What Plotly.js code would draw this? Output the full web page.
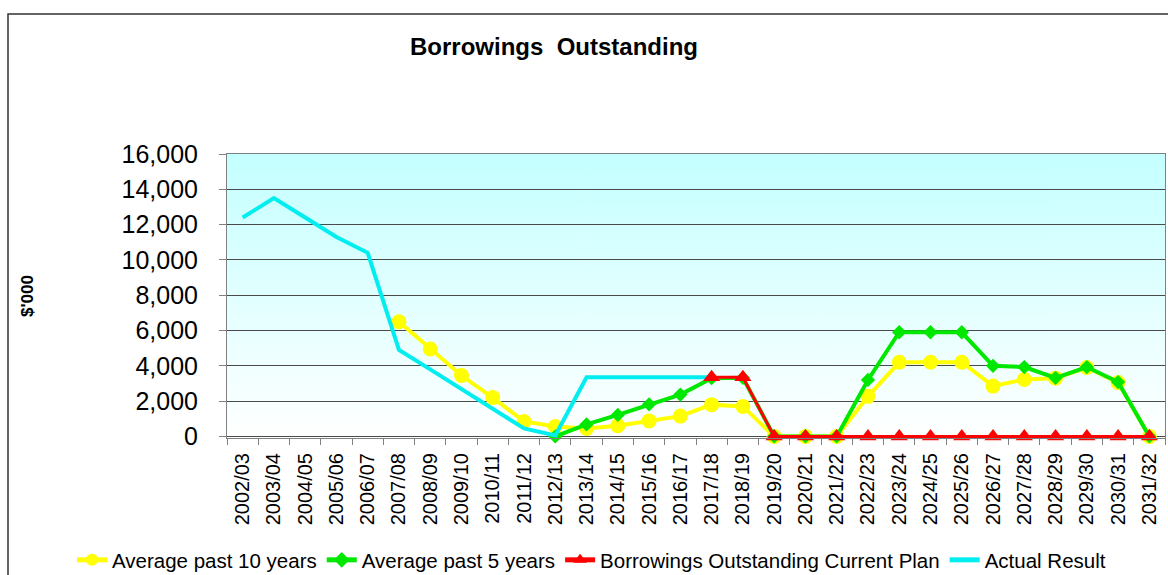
<!DOCTYPE html>
<html>
<head>
<meta charset="utf-8">
<script src="https://cdn.plot.ly/plotly-3.0.1.min.js"></script>
<style>html,body{margin:0;padding:0;background:#fff;}#chart{width:1168px;height:575px;}</style>
</head>
<body>
<div id="chart"></div>
<script>
const years = ["2002/03","2003/04","2004/05","2005/06","2006/07","2007/08","2008/09","2009/10","2010/11","2011/12","2012/13","2013/14","2014/15","2015/16","2016/17","2017/18","2018/19","2019/20","2020/21","2021/22","2022/23","2023/24","2024/25","2025/26","2026/27","2027/28","2028/29","2029/30","2030/31","2031/32"];

const avg10 = [null,null,null,null,null,6500,4950,3450,2200,850,560,450,600,880,1150,1800,1700,0,0,0,2270,4200,4200,4200,2850,3230,3300,3900,3050,0];

const avg5 = [null,null,null,null,null,null,null,null,null,null,0,680,1220,1820,2370,3300,3320,0,0,0,3200,5900,5900,5900,4000,3930,3320,3930,3080,0];

const currentPlan = [null,null,null,null,null,null,null,null,null,null,null,null,null,null,null,3350,3350,0,0,0,0,0,0,0,0,0,0,0,0,0];

const actual = [12400,13500,12400,11300,10400,4900,3800,2700,1600,450,50,3350,3350,3350,3350,3350,null,null,null,null,null,null,null,null,null,null,null,null,null,null];

const seriesNames = ["Average past 10 years","Average past 5 years","Borrowings Outstanding Current Plan","Actual Result"];

// gradient background image for plot area
const cv = document.createElement('canvas');
cv.width = 4; cv.height = 284;
const ctx = cv.getContext('2d');
const g = ctx.createLinearGradient(0,0,0,284);
g.addColorStop(0,'#C4FFFF');
g.addColorStop(1,'#FFFFFF');
ctx.fillStyle = g; ctx.fillRect(0,0,4,284);
const bgURL = cv.toDataURL('image/png');

const font = 'Liberation Sans, Arial, sans-serif';

const traces = [
  {x: years, y: avg10, name: seriesNames[0], type:'scatter', mode:'lines+markers', cliponaxis:false,
   line:{color:'#FFFF00', width:4}, marker:{symbol:'circle', size:15, color:'#FFFF00'}},
  {x: years, y: avg5, name: seriesNames[1], type:'scatter', mode:'lines+markers', cliponaxis:false,
   line:{color:'#00E800', width:4}, marker:{symbol:'diamond', size:11, color:'#00E800'}},
  {x: years, y: actual, name: seriesNames[3], type:'scatter', mode:'lines', cliponaxis:false,
   line:{color:'#00EEF0', width:4}, showlegend:false, legendgroup:'a'},
  {x: years, y: currentPlan, name: seriesNames[2], type:'scatter', mode:'lines+markers', cliponaxis:false,
   line:{color:'#FF0000', width:3}, marker:{symbol:'triangle-up', size:15, color:'#FF0000'}},
  {x: [null], y: [null], name: seriesNames[3], type:'scatter', mode:'lines',
   line:{color:'#00EEF0', width:4}, legendgroup:'a'}
];

const layout = {
  width:1168, height:575,
  margin:{l:227, r:3, t:154, b:137, autoexpand:false},
  paper_bgcolor:'#FFFFFF',
  plot_bgcolor:'rgba(0,0,0,0)',
  font:{family:font, color:'#000000', size:20},
  title:{text:'<b>Borrowings  Outstanding</b>', font:{family:font, size:24, color:'#000'},
         x:554/1168, xref:'container', xanchor:'center', y:1-47/575, yref:'container', yanchor:'middle'},
  xaxis:{type:'category', range:[-0.5, 29.5], tickangle:-90, tickson:'boundaries', ticks:'outside', ticklen:6,
         tickcolor:'#808080', showline:true, linecolor:'#808080', linewidth:1, mirror:true,
         ticklabelstandoff:6,
         showgrid:false, tickfont:{family:font, size:20, color:'#000'}, fixedrange:true},
  yaxis:{range:[-90,16000], tickvals:[0,2000,4000,6000,8000,10000,12000,14000,16000], tickformat:',d', ticks:'outside', ticklen:7,
         tickcolor:'#808080', showline:true, linecolor:'#808080', linewidth:1, mirror:true,
         ticklabelstandoff:16,
         showgrid:true, gridcolor:'#4a4a4a', gridwidth:1, zeroline:false,
         tickfont:{family:font, size:25, color:'#000'}, fixedrange:true},
  legend:{orientation:'h', xref:'paper', yref:'paper', x:(72-227)/938, xanchor:'left',
          y:(438-560)/284, yanchor:'middle', font:{family:font, size:20.5, color:'#000'},
          bgcolor:'rgba(0,0,0,0)', traceorder:'normal', itemsizing:'constant'},
  images:[{source:bgURL, xref:'paper', yref:'paper', x:0, y:1, sizex:1, sizey:1,
           sizing:'stretch', xanchor:'left', yanchor:'top', layer:'below'}],
  annotations:[{text:"<b>$'000</b>", xref:'paper', yref:'paper', x:(27-227)/938, y:0.5,
                textangle:-90, showarrow:false, font:{family:font, size:17, color:'#000'},
                xanchor:'center', yanchor:'middle'}],
  shapes:[{type:'rect', xref:'paper', yref:'paper', x0:(8-227)/938, x1:(1172-227)/938,
           y0:(438-590)/284, y1:(438-14)/284, line:{color:'#333333', width:1.5}, fillcolor:'rgba(0,0,0,0)', layer:'below'}]
};

Plotly.newPlot('chart', traces, layout, {displayModeBar:false, staticPlot:true});
</script>
</body>
</html>
